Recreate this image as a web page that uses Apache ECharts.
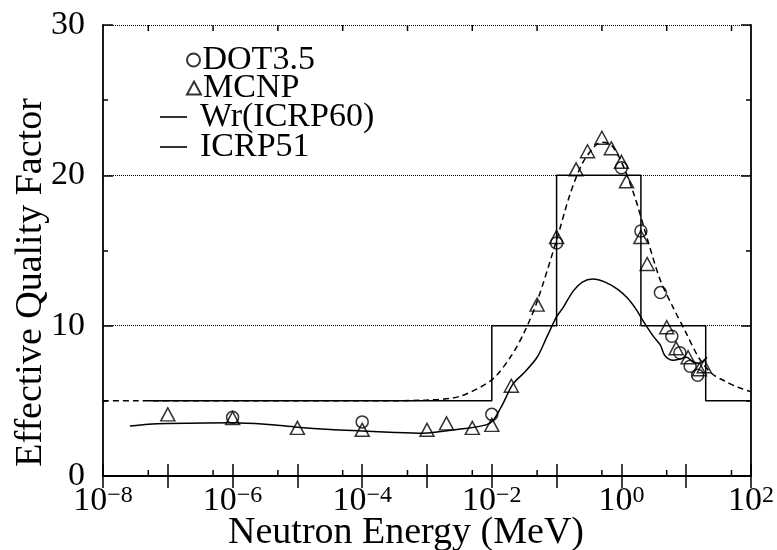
<!DOCTYPE html>
<html>
<head>
<meta charset="utf-8">
<script src="https://cdn.jsdelivr.net/npm/echarts@6/dist/echarts.min.js"></script>
<style>html,body{margin:0;padding:0;background:#fff}#c{width:777px;height:550px}</style>
</head>
<body>
<div id="c"></div>
<script>
// ---- data ----
const xMin = 1e-8, xMax = 1e2;
const yMin = 0, yMax = 30;
const yTicks = [0, 10, 20, 30];

// DOT3.5 (circles)
const dotE = [1e-6, 1e-4, 1e-2, 0.1, 1, 2, 4, 6, 8, 11.5, 15];
const dotV = [3.9, 3.6, 4.1, 15.5, 20.5, 16.3, 12.2, 9.3, 8.2, 7.3, 6.7];

// MCNP (triangles)
const mcnpE = [1e-7, 1e-6, 1e-5, 1e-4, 1e-3, 2e-3, 5e-3, 1e-2, 2e-2, 5e-2, 0.1, 0.2, 0.3, 0.5, 0.7, 1, 1.2, 2, 2.5, 5, 7, 10.7, 16, 19];
const mcnpV = [4.1, 3.85, 3.2, 3.07, 3.07, 3.5, 3.2, 3.4, 6.0, 11.4, 15.9, 20.4, 21.6, 22.5, 21.8, 20.9, 19.6, 15.9, 14.1, 9.9, 8.5, 7.9, 7.1, 7.3];

// Wr (ICRP60) step function
const wrE = [5e-8, 1e-2, 1e-2, 0.1, 0.1, 2, 2, 20, 20, 100];
const wrV = [5, 5, 10, 10, 20, 20, 10, 10, 5, 5];

// Wr (ICRP60) continuous curve (dashed)
const wrcE = [1e-8, 1e-6, 1e-4, 1e-3, 3.2e-3, 1e-2, 2e-2, 3.2e-2, 5e-2, 0.1, 0.16, 0.25, 0.4, 0.5, 0.7, 1, 1.6, 2.5, 4, 6.3, 10, 16, 25, 40, 63, 100];
const wrcV = [5.0, 5.0, 5.0, 5.05, 5.3, 6.4, 8.0, 9.6, 11.6, 15.7, 18.7, 20.8, 22.0, 22.2, 22.0, 20.9, 18.6, 15.8, 13.0, 11.2, 9.5, 7.8, 6.8, 6.3, 5.9, 5.6];

// ICRP51 (solid curve)
const icrpE = [2.6e-8, 5e-8, 1e-7, 1e-6, 3.2e-6, 1e-5, 3.2e-5, 1e-4, 3.2e-4, 8.7e-4, 2.9e-3, 9.3e-3, 1.4e-2, 2.1e-2, 3.2e-2, 5e-2, 7e-2, 0.1, 0.126, 0.18, 0.25, 0.36, 0.56, 0.89, 1.26, 1.74, 2.1, 3.1, 4.0, 4.7, 6.3, 8.3, 10.2, 12.6, 15.8, 21];
const icrpV = [3.33, 3.45, 3.5, 3.55, 3.45, 3.25, 3.1, 3.0, 2.9, 2.85, 3.1, 3.5, 4.6, 6.1, 6.9, 7.9, 9.2, 10.6, 11.2, 12.3, 12.9, 13.1, 12.9, 12.4, 11.8, 11.0, 10.4, 9.3, 8.7, 8.0, 7.7, 7.8, 7.9, 7.6, 7.5, 7.9];

// minor x ticks (5 x 10^n)
const minorTickE = [5e-8, 5e-7, 5e-6, 5e-5, 5e-4, 5e-3, 5e-2, 5e-1, 5, 50];

const zip = (a, b) => a.map((v, i) => [v, b[i]]);
const FONT = '"Liberation Serif", "Times New Roman", serif';

const chart = echarts.init(document.getElementById('c'), null, {renderer: 'canvas'});

const xAxisBase = {
  type: 'log', logBase: 10, min: xMin, max: xMax, interval: 1,
  axisLine: {show: true, lineStyle: {color: '#000', width: 1.8}},
  axisTick: {show: true, inside: true, length: 12, lineStyle: {color: '#000', width: 1.5}},
  splitLine: {show: false},
  minorTick: {show: false}
};
const yAxisBase = {
  type: 'value', min: yMin, max: yMax, interval: 10,
  axisLine: {show: true, onZero: false, lineStyle: {color: '#000', width: 1.8}},
  axisTick: {show: true, inside: true, length: 10, lineStyle: {color: '#000', width: 1.5}},
  minorTick: {show: true, splitNumber: 2, length: 5, lineStyle: {color: '#000', width: 1.5}}
};

const legendText = {fontFamily: FONT, fontSize: 34, lineHeight: 29, color: '#000'};
function scatterLegend(name, top) {
  return {
    data: [name], orient: 'vertical', left: 186, top: top, padding: 0,
    itemWidth: 14, itemHeight: 13, itemGap: 0, selectedMode: false,
    textStyle: Object.assign({}, legendText, {padding: [0, 0, 0, -3]})
  };
}
function lineLegend(name, top) {
  return {
    data: [{name: name, icon: 'rect'}], orient: 'vertical', left: 160, top: top, padding: 0,
    itemWidth: 27, itemHeight: 1.6, itemGap: 0, selectedMode: false,
    textStyle: Object.assign({}, legendText, {padding: [0, 0, 0, 8]})
  };
}

chart.setOption({
  backgroundColor: '#fff',
  animation: false,
  textStyle: {fontFamily: FONT, color: '#000'},
  grid: {left: 103, right: 26, top: 25, bottom: 74, containLabel: false, outerBoundsMode: 'none'},
  legend: [
    scatterLegend('DOT3.5', 43),
    scatterLegend('MCNP', 71),
    lineLegend('Wr(ICRP60)', 100),
    lineLegend('ICRP51', 130)
  ],
  xAxis: [
    Object.assign({}, xAxisBase, {
      position: 'bottom',
      name: 'Neutron Energy (MeV)', nameLocation: 'middle', nameGap: 38, nameMoveOverlap: false,
      nameTextStyle: {fontFamily: FONT, fontSize: 38, color: '#000', padding: [0, 42, 0, 0]},
      axisLabel: {
        show: true, margin: 8, color: '#000',
        formatter: function (v) {
          const e = Math.round(Math.log10(v));
          if (e % 2 !== 0) return '';
          return '{b|10}{s|' + (e < 0 ? '\u2212' : '') + Math.abs(e) + '}';
        },
        rich: {
          b: {fontFamily: FONT, fontSize: 34, lineHeight: 34, verticalAlign: 'bottom', color: '#000'},
          s: {fontFamily: FONT, fontSize: 24, lineHeight: 24, verticalAlign: 'top', padding: [0, 0, 14, 0], color: '#000'}
        }
      }
    }),
    Object.assign({}, xAxisBase, {position: 'top', axisLabel: {show: false}})
  ],
  yAxis: [
    Object.assign({}, yAxisBase, {
      position: 'left',
      name: 'Effective Quality Factor', nameLocation: 'middle', nameGap: 53, nameRotate: 90, nameMoveOverlap: false,
      nameTextStyle: {fontFamily: FONT, fontSize: 38, color: '#000', padding: [0, 64, 0, 0]},
      axisLabel: {show: true, margin: 18, fontFamily: FONT, fontSize: 34, color: '#000',
        formatter: v => (yTicks.indexOf(v) >= 0 ? String(v) : '')},
      splitLine: {show: true, lineStyle: {type: 'dotted', color: '#000', width: 1}}
    }),
    Object.assign({}, yAxisBase, {position: 'right', axisLabel: {show: false}, splitLine: {show: false}})
  ],
  series: [
    {
      name: 'Wr(ICRP60)', type: 'line', data: zip(wrE, wrV), symbol: 'none',
      lineStyle: {color: '#000', width: 1.5}, itemStyle: {color: '#000'}, z: 3
    },
    {
      name: 'Wr(ICRP60)', type: 'line', data: zip(wrcE, wrcV), symbol: 'none', smooth: 0.3,
      lineStyle: {color: '#000', width: 1.5, type: [6, 4]}, itemStyle: {color: '#000'}, z: 3
    },
    {
      name: 'ICRP51', type: 'line', data: zip(icrpE, icrpV), symbol: 'none', smooth: 0.3,
      lineStyle: {color: '#000', width: 1.5}, itemStyle: {color: '#000'}, z: 3
    },
    {
      name: 'DOT3.5', type: 'scatter', data: zip(dotE, dotV), symbol: 'circle', symbolSize: 12,
      itemStyle: {color: 'rgba(255,255,255,0)', borderColor: '#000', borderWidth: 1.5}, z: 4
    },
    {
      name: 'MCNP', type: 'scatter', data: zip(mcnpE, mcnpV), symbol: 'triangle', symbolSize: [14, 13],
      itemStyle: {color: 'rgba(255,255,255,0)', borderColor: '#000', borderWidth: 1.5}, z: 4
    },
    {
      name: 'minor ticks', type: 'custom', silent: true, z: 5, clip: false,
      data: minorTickE.map(v => [v, yMin]),
      renderItem: function (params, api) {
        const b = api.coord([api.value(0), yMin]);
        const t = api.coord([api.value(0), yMax]);
        return {
          type: 'group',
          children: [
            {type: 'line', shape: {x1: b[0], y1: b[1], x2: b[0], y2: b[1] - 6}, style: {stroke: '#000', lineWidth: 1.5}},
            {type: 'line', shape: {x1: t[0], y1: t[1], x2: t[0], y2: t[1] + 6}, style: {stroke: '#000', lineWidth: 1.5}}
          ]
        };
      }
    }
  ]
});
</script>
</body>
</html>
